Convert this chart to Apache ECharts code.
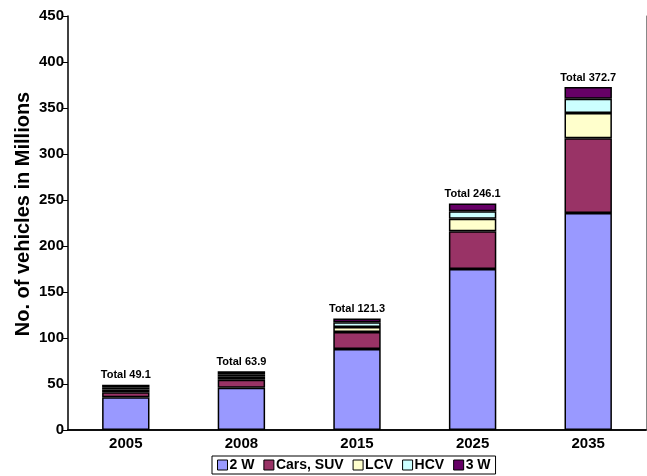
<!DOCTYPE html>
<html lang="en">
<head>
  <meta charset="UTF-8">
  <title>Vehicles</title>
  <style>
    html, body { margin: 0; padding: 0; background: #fff; }
    #main { width: 647px; height: 476px; }
  </style>
</head>
<body>
  <div id="main"></div>
<script src="https://cdn.jsdelivr.net/npm/echarts@6/dist/echarts.min.js"></script>
<script>
  // 数据
  var years = ['2005', '2008', '2015', '2025', '2035'];
  var twoW = [35.6, 46.0, 88.0, 175.0, 236.0];
  var cars = [5.4, 8.5, 18.5, 41.0, 81.0];
  var lcv = [3.0, 3.5, 5.5, 13.5, 27.6];
  var hcv = [2.5, 2.5, 5.0, 8.3, 15.4];
  var threeW = [2.6, 3.4, 4.3, 8.3, 12.7];
  var totals = [49.1, 63.9, 121.3, 246.1, 372.7];
  var yTicks = [0, 50, 100, 150, 200, 250, 300, 350, 400, 450];

  var font = 'Liberation Sans, Arial, sans-serif';
  var myChart = echarts.init(document.getElementById('main'));

  function bar(name, data, color) {
    return {
      name: name,
      type: 'bar',
      stack: 'all',
      data: data,
      barWidth: '41%',
      itemStyle: { color: color, borderColor: '#000', borderWidth: 1.5 }
    };
  }

  var series = [
    bar('2 W', twoW, '#9999ff'),
    bar('Cars, SUV', cars, '#993366'),
    bar('LCV', lcv, '#ffffcc'),
    bar('HCV', hcv, '#ccffff'),
    bar('3 W', threeW, '#660066')
  ];
  // 顶部的 Total 标签
  series[4].label = {
    show: true,
    position: 'top',
    distance: 4,
    color: '#000',
    fontFamily: font,
    fontWeight: 'bold',
    fontSize: 11,
    formatter: function (p) { return 'Total ' + totals[p.dataIndex].toFixed(1); }
  };

  var option = {
    animation: false,
    grid: { left: 68, right: 1, top: 16, bottom: 46, containLabel: false },
    legend: {
      bottom: 2,
      left: 212,
      data: ['2 W', 'Cars, SUV', 'LCV', 'HCV', '3 W'],
      icon: 'rect',
      itemWidth: 10,
      itemHeight: 10,
      itemGap: 9,
      padding: [2, 5, 2, 5],
      borderColor: '#000',
      borderWidth: 1,
      textStyle: { fontFamily: font, fontWeight: 'bold', fontSize: 14, color: '#000', padding: [0, 0, 0, -3] },
      itemStyle: { borderColor: '#000', borderWidth: 1 }
    },
    xAxis: [{
      type: 'category',
      data: years,
      axisLine: { lineStyle: { color: '#000', width: 1.5 } },
      axisTick: { show: false },
      axisLabel: { color: '#000', fontFamily: font, fontWeight: 'bold', fontSize: 15, margin: 6 }
    }, {
      type: 'category',
      position: 'top',
      data: years,
      axisLine: { show: true, lineStyle: { color: '#000', width: 1.5 } },
      axisTick: { show: false },
      axisLabel: { show: false }
    }],
    yAxis: [{
      type: 'value',
      min: 0,
      max: 450,
      interval: 50,
      name: 'No. of vehicles in Millions',
      nameLocation: 'middle',
      nameGap: 35,
      nameMoveOverlap: false,
      nameTextStyle: { color: '#000', fontFamily: font, fontWeight: 'bold', fontSize: 20, padding: [0, 0, 0, 18] },
      axisLine: { show: true, lineStyle: { color: '#000', width: 1.5 } },
      axisTick: { show: true, length: 5, lineStyle: { color: '#000' } },
      axisLabel: {
        color: '#000', fontFamily: font, fontWeight: 'bold', fontSize: 15, margin: 4,
        formatter: function (v) { return yTicks.indexOf(v) >= 0 ? String(v) : ''; }
      },
      splitLine: { show: false }
    }, {
      type: 'value',
      position: 'right',
      min: 0,
      max: 450,
      interval: 50,
      axisLine: { show: true, lineStyle: { color: '#888', width: 1 } },
      axisTick: { show: false },
      axisLabel: { show: false },
      splitLine: { show: false }
    }],
    series: series
  };

  myChart.setOption(option);
</script>
</body>
</html>
